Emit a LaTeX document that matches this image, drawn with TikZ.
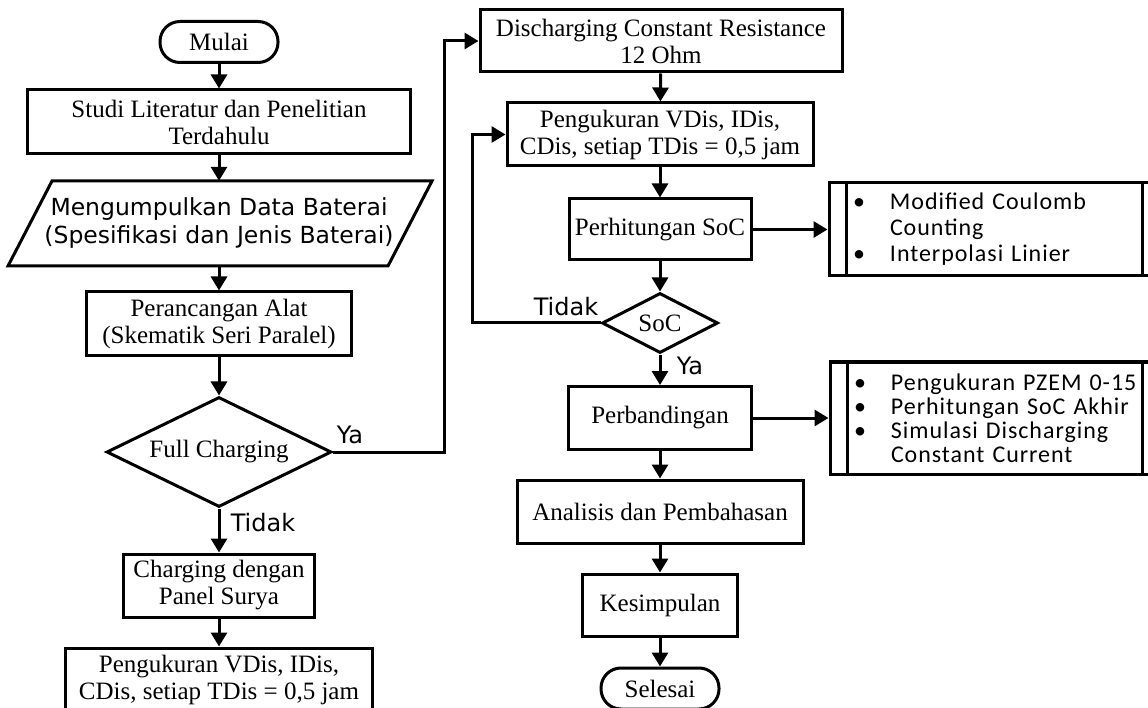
\documentclass[tikz,border=0pt]{standalone}
\usepackage{fontspec}
\setmainfont{Liberation Serif}
\newfontfamily\dvfont{DejaVu Sans}
\newfontfamily\calfont[LetterSpace=4]{Carlito}
\usetikzlibrary{shapes.geometric,arrows.meta,calc}
\tikzset{
  base/.style={draw, line width=3pt, inner sep=0pt, align=center, font=\fontsize{25}{27}\selectfont},
  proc/.style={base, rectangle},
  term/.style={base, rectangle, rounded corners=20pt},
  dec/.style={base, diamond, aspect=2},
  subbox/.style={draw, line width=3pt, inner sep=0pt, align=left, font=\calfont\fontsize{24}{26}\selectfont},
  arr/.style={line width=3pt, -{Triangle[length=14pt,width=16pt]}},
  lbl/.style={inner sep=0pt, font=\dvfont\fontsize{24}{26}\selectfont},
  bar/.style={line width=3pt},
}
\begin{document}
\begin{tikzpicture}[x=1pt,y=-1pt]
\path[use as bounding box] (0,0) rectangle (1148,708);
\clip (0,0) rectangle (1148,708);

% left column
\node[term, minimum width=118pt, minimum height=41pt] (mulai) at (219,42) {Mulai};
\node[proc, minimum width=383pt, minimum height=64pt] (studi) at (219,122) {Studi Literatur dan Penelitian\\Terdahulu};
\draw[line width=3pt] (52,181) -- (432,181) -- (388,266) -- (8,266) -- cycle;
\node[inner sep=0pt, minimum width=380pt, minimum height=85pt, align=center, font=\dvfont\fontsize{23.5}{28}\selectfont] (data) at (219,223.5) {Mengumpulkan Data Baterai\\(Spesifikasi dan Jenis Baterai)};
\node[proc, minimum width=265pt, minimum height=64pt] (rancang) at (219,324) {Perancangan Alat\\(Skematik Seri Paralel)};
\node[dec, minimum width=225pt, minimum height=110pt] (full) at (219,452) {Full Charging};
\node[proc, minimum width=191pt, minimum height=63pt] (charging) at (219,585.5) {Charging dengan\\Panel Surya};
\node[proc, minimum width=307pt, minimum height=64pt] (ukur1) at (219,680) {Pengukuran VDis, IDis,\\CDis, setiap TDis = 0,5 jam};

% right column
\node[proc, minimum width=362pt, minimum height=62pt] (dis) at (661,41) {Discharging Constant Resistance\\12 Ohm};
\node[proc, minimum width=306pt, minimum height=63pt] (ukur2) at (660,134.5) {Pengukuran VDis, IDis,\\CDis, setiap TDis = 0,5 jam};
\node[proc, minimum width=182pt, minimum height=61pt] (hitung) at (660,229.5) {Perhitungan SoC};
\node[dec, minimum width=116pt, minimum height=60pt] (soc) at (660,323) {SoC};
\node[proc, minimum width=183pt, minimum height=63pt] (banding) at (660,418) {Perbandingan};
\node[proc, minimum width=286pt, minimum height=63pt] (analisis) at (660,511.5) {Analisis dan Pembahasan};
\node[proc, minimum width=155pt, minimum height=62pt] (simpul) at (660,605) {Kesimpulan};
\node[term, minimum width=118pt, minimum height=41pt] (selesai) at (660,688.5) {Selesai};

% predefined process boxes
\node[subbox, minimum width=331pt, minimum height=93pt, text width=283pt] (sub1) at (994.5,229.5)
  {\makebox[37pt][l]{\textbullet}Modified Coulomb\\\hspace*{37pt}Counting\\\makebox[37pt][l]{\textbullet}Interpolasi Linier};
\draw[bar] ($(sub1.north west)+(19,0)$) -- ($(sub1.south west)+(19,0)$);
\draw[bar] ($(sub1.north east)+(-19,0)$) -- ($(sub1.south east)+(-19,0)$);
\node[subbox, minimum width=330pt, minimum height=112pt, text width=282pt, font=\calfont\fontsize{24}{24}\selectfont] (sub2) at (995,418)
  {\makebox[37pt][l]{\textbullet}Pengukuran PZEM 0-15\\\makebox[37pt][l]{\textbullet}Perhitungan SoC Akhir\\\makebox[37pt][l]{\textbullet}Simulasi Discharging\\\hspace*{37pt}Constant Current};
\draw[bar] ($(sub2.north west)+(19,0)$) -- ($(sub2.south west)+(19,0)$);
\draw[bar] ($(sub2.north east)+(-19,0)$) -- ($(sub2.south east)+(-19,0)$);

% labels
\node[lbl] (ya1) at (350,435) {Ya};
\node[lbl] (tidak1) at (263,523) {Tidak};
\node[lbl] (tidak2) at (566,307) {Tidak};
\node[lbl] (ya2) at (690,366) {Ya};

% connectors left
\draw[arr] (mulai) -- (studi);
\draw[arr] (studi) -- (data);
\draw[arr] (data) -- (rancang);
\draw[arr] (rancang) -- (full);
\draw[arr] (full) -- (charging);
\draw[arr] (charging) -- (ukur1);
\draw[arr] (full.east) -- ++(111.5,0) |- (dis.west);

% connectors right
\draw[arr] (dis) -- (ukur2);
\draw[arr] (ukur2) -- (hitung);
\draw[arr] (hitung) -- (soc);
\draw[arr] (soc) -- (banding);
\draw[arr] (banding) -- (analisis);
\draw[arr] (analisis) -- (simpul);
\draw[arr] (simpul) -- (selesai);
\draw[arr] (soc.west) -- ++(-128,0) |- (ukur2.west);
\draw[arr] (hitung.east) -- (sub1.west);
\draw[arr] (banding.east) -- (sub2.west);
\end{tikzpicture}
\end{document}
